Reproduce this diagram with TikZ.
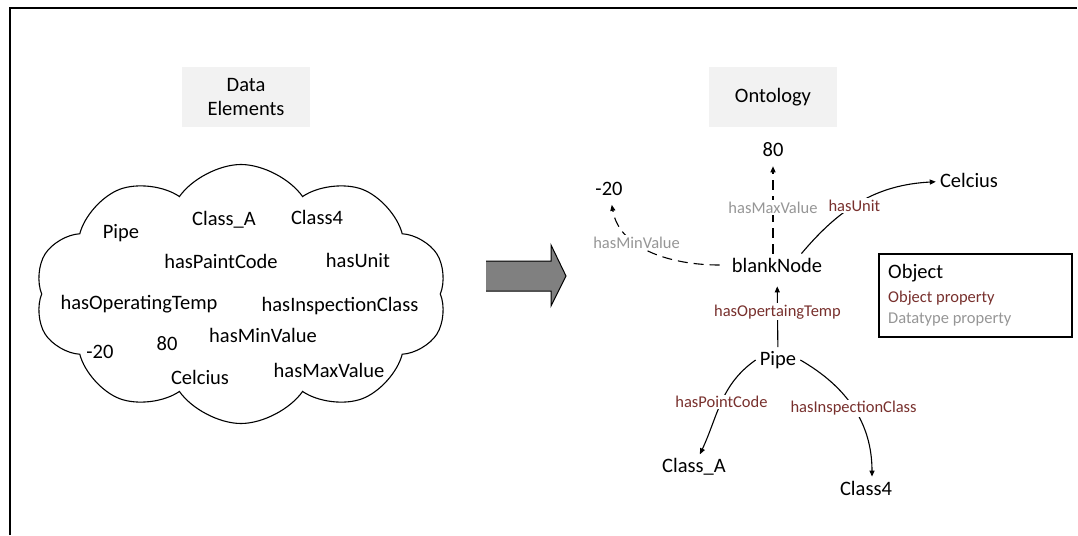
\documentclass[tikz,border=0pt]{standalone}
\usepackage{fontspec}
\setmainfont{Carlito}
\usetikzlibrary{shapes.symbols,arrows.meta}

\definecolor{objred}{RGB}{120,48,45}
\definecolor{datagray}{RGB}{150,150,150}
\definecolor{boxgray}{RGB}{242,242,242}
\definecolor{arrowgray}{RGB}{128,128,128}

\begin{document}
\begin{tikzpicture}[x=1pt, y=-1pt, >={Triangle[length=6pt,width=5pt]},
  word/.style={font=\fontsize{20.5}{24}\selectfont, inner sep=4pt},
  lbl/.style={font=\fontsize{16.5}{19}\selectfont, fill=white, inner sep=1.5pt},
  objlbl/.style={lbl, text=objred},
  datalbl/.style={lbl, text=datagray},
  headbox/.style={word, fill=boxgray, align=center, minimum width=128pt, minimum height=60pt},
  objedge/.style={->, line width=1.1pt},
  dataedge/.style={->, line width=1.1pt, dash pattern=on 10pt off 6pt, shorten >=5pt}]
  \useasboundingbox (0,0) rectangle (1078,535);
  \draw[line width=1.5pt] (10,535) -- (10,8) -- (1077,8);

  % data elements
  \node[headbox] (dataHead) at (246,97) {Data\\Elements};
  \node[cloud, draw, line width=1.1pt, cloud puffs=10, cloud puff arc=110, aspect=1.6,
        minimum width=412pt, minimum height=259pt, inner sep=0pt] (cloud) at (241,294) {};
  \node[word] (dPipe) at (121,233) {Pipe};
  \node[word] (dClsA) at (224,220) {Class\_A};
  \node[word] (dCls4) at (317,217) {Class4};
  \node[word] (dPaint) at (221,261) {hasPaintCode};
  \node[word] (dUnit) at (358,260) {hasUnit};
  \node[word] (dTemp) at (139,304) {hasOperatingTemp};
  \node[word] (dInsp) at (340,306) {hasInspectionClass};
  \node[word] (dMin) at (263,335) {hasMinValue};
  \node[word] (dM20) at (100,352) {-20};
  \node[word] (d80) at (167,344) {80};
  \node[word] (dCel) at (200,377) {Celcius};
  \node[word] (dMax) at (329,370) {hasMaxValue};

  % big arrow
  \fill[arrowgray] (486,261) -- (551,261) -- (551,245) -- (566,276) -- (551,306) -- (551,291) -- (486,291) -- cycle;
  \draw[line width=1pt] (486,261) -- (551,261) -- (551,245) -- (566,276) -- (551,306) -- (551,291) -- (486,291);

  % ontology
  \node[headbox] (ontoHead) at (773,97) {Ontology};
  \node[word] (blank) at (777,265) {blankNode};
  \node[word] (o80) at (773,150) {80};
  \node[word] (oM20) at (609,189) {-20};
  \node[word] (oCel) at (969,180) {Celcius};
  \node[word] (oPipe) at (778,360) {Pipe};
  \node[word] (oClsA) at (694,467) {Class\_A};
  \node[word] (oCls4) at (866,488) {Class4};

  \draw[dataedge] (blank.north -| o80) -- node[datalbl] {hasMaxValue} (o80);
  \draw[dataedge] ([xshift=-8pt]blank.west) to[out=180, in=-80] node[datalbl, pos=0.62] {hasMinValue} (oM20);
  \draw[objedge] (blank.25) to[out=50, in=183] node[objlbl, pos=0.45] {hasUnit} (oCel);
  \draw[objedge, shorten >=10pt] (oPipe) -- node[objlbl] {hasOpertaingTemp} (blank);
  \draw[objedge] (oPipe.west) to[out=215, in=65] node[objlbl] {hasPointCode} (oClsA);
  \draw[objedge] (oPipe.east) to[out=-30, in=90] node[objlbl] {hasInspectionClass} ([xshift=6pt]oCls4.north);

  % legend
  \node[draw, line width=1.1pt, minimum width=193pt, minimum height=83pt] (legend) at (975.5,295.5) {};
  \node[word, anchor=west] (lgObj) at (884,273) {Object};
  \node[objlbl, anchor=west] (lgObjProp) at (886.5,298) {Object property};
  \node[datalbl, anchor=west] (lgDataProp) at (886.5,320) {Datatype property};
\end{tikzpicture}
\end{document}
